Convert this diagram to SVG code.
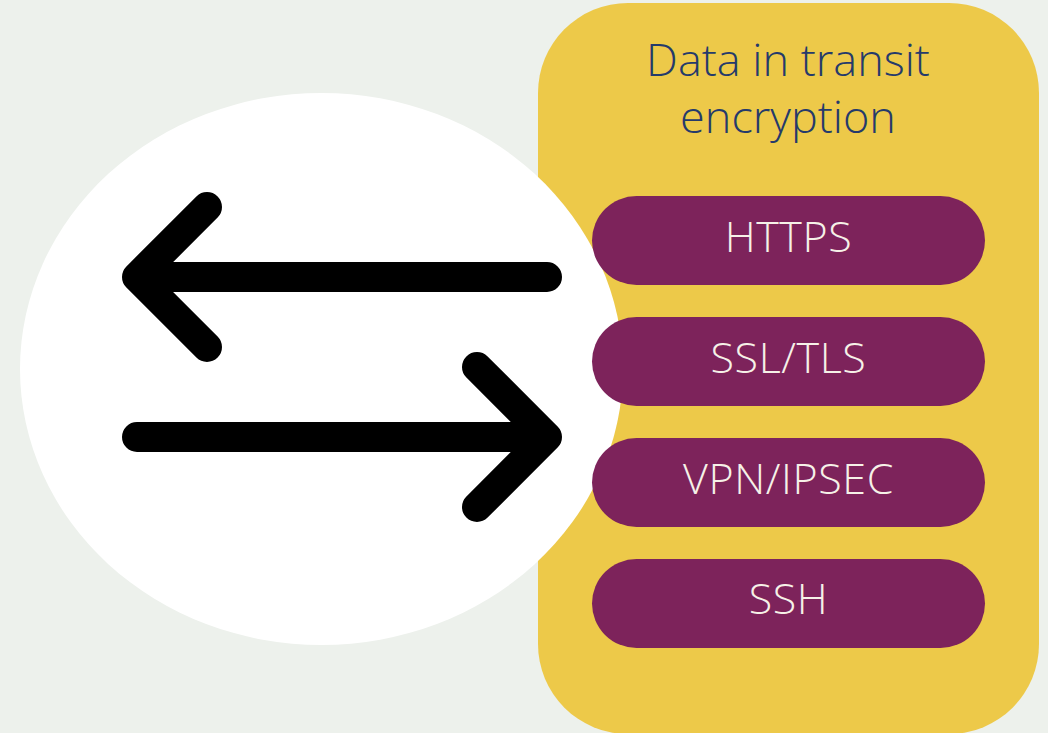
<svg xmlns="http://www.w3.org/2000/svg" width="1048" height="733" viewBox="0 0 1048 733">
  <style>
    .title { font-family: "Open Sans", "Liberation Sans", sans-serif; font-weight: 300; font-size: 45px; fill: #253a6b; text-anchor: middle; }
    .pill { fill: #7d235b; }
    .pill-label { font-family: "Open Sans", "Liberation Sans", sans-serif; font-weight: 300; font-size: 43px; letter-spacing: 0.6px; fill: #f6f1e8; text-anchor: middle; }
    .arrow { fill: none; stroke: #000; stroke-width: 30; stroke-linecap: round; stroke-linejoin: round; }
  </style>
  <rect width="1048" height="733" fill="#edf1ec"/>

  <!-- yellow panel holding the protocol list -->
  <g id="panel">
    <rect x="538" y="3" width="501" height="731" rx="90" ry="90" fill="#edc949"/>
    <text class="title" x="788" y="76">Data in transit</text>
    <text class="title" x="788" y="133">encryption</text>
  </g>

  <!-- white disc behind the two-way arrows -->
  <g id="disc">
    <ellipse cx="321.5" cy="369" rx="301.5" ry="276" fill="#ffffff"/>
  </g>

  <g id="connectors">
    <path class="arrow" d="M547 277 H137 M207 207 L137 277 L207 347"/>
    <path class="arrow" d="M137 437 H547 M477 367 L547 437 L477 507"/>
  </g>

  <g id="https">
    <rect class="pill" x="592" y="196" width="393" height="89" rx="44.5"/>
    <text class="pill-label" x="788.5" y="252">HTTPS</text>
  </g>
  <g id="ssl-tls">
    <rect class="pill" x="592" y="317" width="393" height="89" rx="44.5"/>
    <text class="pill-label" x="788.5" y="373">SSL/TLS</text>
  </g>
  <g id="vpn-ipsec">
    <rect class="pill" x="592" y="438" width="393" height="89" rx="44.5"/>
    <text class="pill-label" x="788.5" y="494">VPN/IPSEC</text>
  </g>
  <g id="ssh">
    <rect class="pill" x="592" y="559" width="393" height="89" rx="44.5"/>
    <text class="pill-label" x="788.5" y="614">SSH</text>
  </g>
</svg>
